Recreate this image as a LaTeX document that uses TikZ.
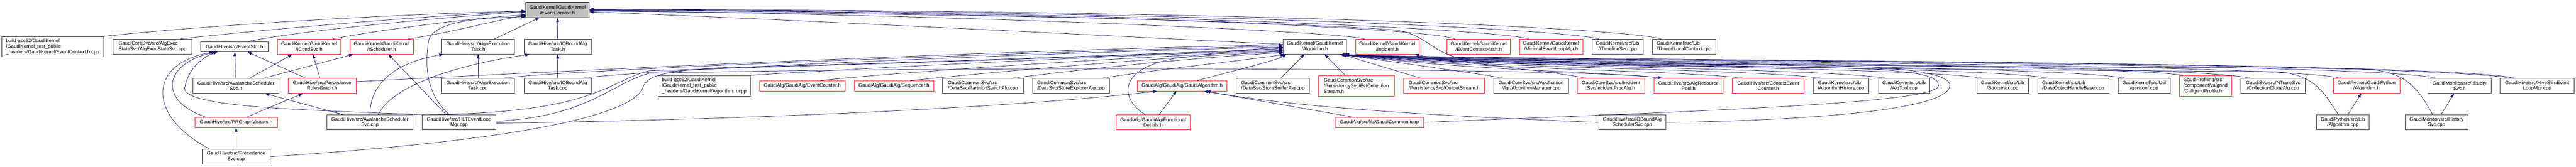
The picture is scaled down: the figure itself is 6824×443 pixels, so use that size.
\documentclass[tikz,border=0pt]{standalone}
\usepackage{fontspec}
\setmainfont{Liberation Sans}
\usetikzlibrary{arrows.meta}

\definecolor{mblue}{RGB}{25,25,112}

\tikzset{
  filebox/.style={draw=black!75, line width=1pt, fill=white, inner sep=2pt,
    minimum height=40, align=center, font=\fontsize{13}{14.6}\selectfont},
  truncbox/.style={filebox, draw=red!85},
  rootbox/.style={filebox, draw=black, fill=gray!50},
  lft/.style={align=left},
  incl/.style={draw=mblue, line width=1pt, -{Triangle[length=11pt,width=8pt]}},
}

\begin{document}
\begin{tikzpicture}[x=1pt, y=-1pt]

  \path[use as bounding box, fill=white] (0,0) rectangle (6824,443);

  % --- Root ---
  \node[rootbox, minimum width=168] (ctx) at (1477,26.5) {GaudiKernel/GaudiKernel\\/EventContext.h};

  % --- Row 1 ---
  \node[filebox, lft, minimum width=271, minimum height=54] (ctxtest) at (139.5,124) {build-gcc62/GaudiKernel\\/GaudiKernel\_test\_public\\\_headers/GaudiKernel/EventContext.h.cpp};
  \node[filebox, lft, minimum width=208] (aessvc) at (404,124) {GaudiCoreSvc/src/AlgExec\\StateSvc/AlgExecStateSvc.cpp};
  \node[filebox, minimum width=178, minimum height=27] (evslot) at (621,124) {GaudiHive/src/EventSlot.h};
  \node[truncbox, minimum width=168] (icond) at (819,124) {GaudiKernel/GaudiKernel\\/ICondSvc.h};
  \node[truncbox, minimum width=168] (isched) at (1011,124) {GaudiKernel/GaudiKernel\\/IScheduler.h};
  \node[filebox, minimum width=193] (aeth) at (1266.5,124) {GaudiHive/src/AlgoExecution\\Task.h};
  \node[filebox, minimum width=179] (iobth) at (1477.5,124) {GaudiHive/src/IOBoundAlg\\Task.h};
  \node[filebox, minimum width=168] (algh) at (3483,124) {GaudiKernel/GaudiKernel\\/Algorithm.h};
  \node[truncbox, minimum width=168] (incid) at (3675,124) {GaudiKernel/GaudiKernel\\/Incident.h};
  \node[truncbox, minimum width=168] (ctxhash) at (3917,124) {GaudiKernel/GaudiKernel\\/EventContextHash.h};
  \node[truncbox, minimum width=168] (minelm) at (4109,124) {GaudiKernel/GaudiKernel\\/MinimalEventLoopMgr.h};
  \node[filebox, minimum width=136] (itl) at (4285,124) {GaudiKernel/src/Lib\\/ITimelineSvc.cpp};
  \node[filebox, lft, minimum width=168] (tlc) at (4461,124) {GaudiKernel/src/Lib\\/ThreadLocalContext.cpp};

  % --- Row 2 ---
  \node[filebox, minimum width=228] (avsh) at (625,228) {GaudiHive/src/AvalancheScheduler\\Svc.h};
  \node[truncbox, minimum width=179] (prgh) at (853.5,228) {GaudiHive/src/Precedence\\RulesGraph.h};
  \node[filebox, minimum width=193] (aetc) at (1266.5,228) {GaudiHive/src/AlgoExecution\\Task.cpp};
  \node[filebox, minimum width=179] (iobtc) at (1477.5,228) {GaudiHive/src/IOBoundAlg\\Task.cpp};
  \node[filebox, lft, minimum width=245, minimum height=55] (algcpp) at (1865.5,228) {build-gcc62/GaudiKernel\\/GaudiKernel\_test\_public\\\_headers/GaudiKernel/Algorithm.h.cpp};
  \node[truncbox, minimum width=227, minimum height=27] (evcnt) at (2125.5,228) {GaudiAlg/GaudiAlg/EventCounter.h};
  \node[truncbox, minimum width=210, minimum height=27] (seq) at (2368,228) {GaudiAlg/GaudiAlg/Sequencer.h};
  \node[filebox, lft, minimum width=214] (pswitch) at (2604,228) {GaudiCommonSvc/src\\/DataSvc/PartitionSwitchAlg.cpp};
  \node[filebox, lft, minimum width=204] (sexpl) at (2837,228) {GaudiCommonSvc/src\\/DataSvc/StoreExplorerAlg.cpp};
  \node[truncbox, minimum width=237, minimum height=27] (galg) at (3131.5,228) {GaudiAlg/GaudiAlg/GaudiAlgorithm.h};
  \node[filebox, lft, minimum width=194] (ssniff) at (3372,228) {GaudiCommonSvc/src\\/DataSvc/StoreSnifferAlg.cpp};
  \node[truncbox, lft, minimum width=200, minimum height=55] (evtcoll) at (3593,228) {GaudiCommonSvc/src\\/PersistencySvc/EvtCollection\\Stream.h};
  \node[truncbox, lft, minimum width=215] (outstr) at (3825.5,228) {GaudiCommonSvc/src\\/PersistencySvc/OutputStream.h};
  \node[filebox, minimum width=198] (algmgr) at (4056,228) {GaudiCoreSvc/src/Application\\Mgr/AlgorithmManager.cpp};
  \node[truncbox, minimum width=179] (incproc) at (4267.5,228) {GaudiCoreSvc/src/Incident\\Svc/IncidentProcAlg.h};
  \node[truncbox, minimum width=184] (respool) at (4473,228) {GaudiHive/src/AlgResource\\Pool.h};
  \node[truncbox, minimum width=190] (ctxcnt) at (4684,228) {GaudiHive/src/ContextEvent\\Counter.h};
  \node[filebox, lft, minimum width=148] (alghist) at (4877,228) {GaudiKernel/src/Lib\\/AlgorithmHistory.cpp};
  \node[filebox, minimum width=136] (algtool) at (5044,228) {GaudiKernel/src/Lib\\/AlgTool.cpp};
  \node[filebox, minimum width=136] (boot) at (5305,228) {GaudiKernel/src/Lib\\/Bootstrap.cpp};
  \node[filebox, lft, minimum width=188] (dohb) at (5492,228) {GaudiKernel/src/Lib\\/DataObjectHandleBase.cpp};
  \node[filebox, minimum width=138] (genconf) at (5680,228) {GaudiKernel/src/Util\\/genconf.cpp};
  \node[truncbox, lft, minimum width=139, minimum height=55] (callg) at (5842.5,228) {GaudiProfiling/src\\/component/valgrind\\/CallgrindProfile.h};
  \node[filebox, minimum width=171] (ccalg) at (6021.5,228) {GaudiSvc/src/NTupleSvc\\/CollectionCloneAlg.cpp};
  \node[truncbox, minimum width=176] (gpyh) at (6269,228) {GaudiPython/GaudiPython\\/Algorithm.h};
  \node[filebox, minimum width=167] (histh) at (6515.5,228) {GaudiMonitor/src/History\\Svc.h};
  \node[filebox, minimum width=196] (hiveslim) at (6721,228) {GaudiHive/src/HiveSlimEvent\\LoopMgr.cpp};

  % --- Row 3 ---
  \node[truncbox, minimum width=219, minimum height=27] (prgv) at (625.5,325) {GaudiHive/src/PRGraphVisitors.h};
  \node[filebox, minimum width=228] (avscpp) at (980,325) {GaudiHive/src/AvalancheScheduler\\Svc.cpp};
  \node[filebox, minimum width=196] (hltcpp) at (1216,325) {GaudiHive/src/HLTEventLoop\\Mgr.cpp};
  \node[truncbox, minimum width=197] (fdet) at (3054.5,325) {GaudiAlg/GaudiAlg/Functional\\Details.h};
  \node[truncbox, minimum width=234, minimum height=27] (gcicpp) at (3654,325) {GaudiAlg/src/lib/GaudiCommon.icpp};
  \node[filebox, minimum width=178] (iobsched) at (4324,325) {GaudiHive/src/IOBoundAlg\\SchedulerSvc.cpp};
  \node[filebox, minimum width=139] (gpycpp) at (6206.5,325) {GaudiPython/src/Lib\\/Algorithm.cpp};
  \node[filebox, minimum width=167] (histcpp) at (6454.5,325) {GaudiMonitor/src/History\\Svc.cpp};

  % --- Row 4 ---
  \node[filebox, minimum width=179] (precsvc) at (625.5,416) {GaudiHive/src/Precedence\\Svc.cpp};

  % --- into EventContext.h ---
  \draw[incl] (ctxtest.north east) .. controls (600,62) and (1100,36) .. ([yshift=-3]ctx.west);
  \draw[incl] ([xshift=74]aessvc.north) .. controls (700,78) and (1150,40) .. ([yshift=-4]ctx.west);
  \draw[incl] ([xshift=37]evslot.north) .. controls (800,80) and (1200,44) .. ([yshift=-5]ctx.west);
  \draw[incl] ([xshift=62]icond.north) .. controls (1000,80) and (1250,48) .. ([yshift=-13]ctx.west);
  \draw[incl] ([xshift=69]isched.north) .. controls (1180,90) and (1320,52) .. ([yshift=-15]ctx.west);
  \draw[incl] ([xshift=-26]hltcpp.north) .. controls (1130,250) and (1125,180) .. (1135,110)
    .. controls (1145,60) and (1250,48) .. ([yshift=-18]ctx.west);
  \draw[incl] ([xshift=43]aeth.north) -- ([xshift=-48]ctx.south);
  \draw[incl] (iobth.north) -- (ctx.south);
  \draw[incl] ([yshift=6]algh.west) .. controls (2800,88) and (2000,48) .. ([yshift=-5]ctx.east);
  \draw[incl] ([xshift=-60]incid.north) .. controls (3560,85) and (2600,40) .. ([yshift=-2]ctx.east);
  \draw[incl] ([xshift=-62]ctxhash.north) .. controls (3780,75) and (2900,33) .. ([yshift=-1]ctx.east);
  \draw[incl] ([xshift=-60]minelm.north) .. controls (3980,80) and (3100,32) .. (ctx.east);
  \draw[incl] ([xshift=-49]itl.north) .. controls (4150,80) and (3300,30) .. ([yshift=1]ctx.east);
  \draw[incl] ([xshift=-61]tlc.north) .. controls (4330,80) and (3500,28) .. ([yshift=2]ctx.east);
  \draw[incl] ([xshift=-68]hiveslim.north) .. controls (6400,168) and (4500,158) .. (3900,157)
    .. controls (3800,155) and (3790,95) .. (3700,80)
    .. controls (3200,45) and (2200,35) .. ([yshift=-3]ctx.east);

  % --- EventSlot.h, ICondSvc.h, IScheduler.h ---
  \draw[incl] ([xshift=-1]avsh.north) -- ([xshift=1]evslot.south);
  \draw[incl] ([xshift=-44]prgh.north) -- ([xshift=35]evslot.south);
  \draw[incl] ([xshift=-80]prgv.north) .. controls (420,270) and (430,170) .. ([xshift=-50]evslot.south);
  \draw[incl] ([xshift=-70]precsvc.north) .. controls (390,310) and (390,170) .. ([xshift=-56]evslot.south);
  \draw[incl] ([xshift=-93]hltcpp.north) .. controls (800,292) and (470,285) .. (490,230)
    .. controls (500,180) and (540,150) .. ([xshift=-45]evslot.south);
  \draw[incl] ([xshift=37]avsh.north) -- ([xshift=-45]icond.south);
  \draw[incl] ([xshift=-6]prgh.north) -- ([xshift=10]icond.south);
  \draw[incl] ([xshift=75]avsh.north) -- ([xshift=-76]isched.south);
  \draw[incl] ([xshift=-34]hltcpp.north) -- ([xshift=18]isched.south);

  % --- scheduler headers ---
  \draw[incl] ([xshift=-71]avscpp.north) -- ([xshift=77]avsh.south);
  \draw[incl] ([xshift=28]prgv.north) -- ([xshift=-52]prgh.south);
  \draw[incl] (precsvc.north) -- (prgv.south);
  \draw[incl] (aetc.north) -- (aeth.south);
  \draw[incl] (iobtc.north) -- (iobth.south);
  \draw[incl] (avscpp.north) .. controls (980,220) and (1050,165) .. ([xshift=-92]aeth.south);
  \draw[incl] ([xshift=22]avscpp.north) .. controls (1040,225) and (1220,170) .. ([xshift=-75]iobth.south);

  % --- GaudiAlgorithm.h, Incident.h, GaudiPython, HistorySvc ---
  \draw[incl] ([xshift=16]fdet.north) -- ([xshift=-15]galg.south);
  \draw[incl] ([yshift=-2]hltcpp.east) .. controls (2000,318) and (2700,285) .. ([xshift=-66]galg.south);
  \draw[incl] ([xshift=-69]gcicpp.north) -- ([xshift=58]galg.south);
  \draw[incl] (iobsched.west) .. controls (3900,312) and (3450,290) .. ([xshift=64]galg.south);
  \draw[incl] ([xshift=-66]incproc.north) .. controls (4080,185) and (3850,165) .. ([xshift=73]incid.south);
  \draw[incl] ([xshift=13]gpycpp.north) -- ([xshift=-14]gpyh.south);
  \draw[incl] ([xshift=12]histcpp.north) -- ([xshift=-15]histh.south);
  \draw[incl] ([yshift=3]hltcpp.east) .. controls (1560,310) and (1620,220) .. (1720,195)
    .. controls (2500,175) and (4200,180) .. ([xshift=-70]respool.north);

  % --- Algorithm.h, from the left ---
  \draw[incl] ([yshift=11]prgh.east) .. controls (1800,172) and (2800,130) .. ([yshift=5]algh.west);
  \draw[incl] ([xshift=68]aetc.north) .. controls (1500,186) and (2600,142) .. ([yshift=2]algh.west);
  \draw[incl] ([xshift=67]iobtc.north) .. controls (1700,186) and (2700,142) .. ([yshift=-1]algh.west);
  \draw[incl] ([xshift=-80]hltcpp.north) .. controls (1580,300) and (1610,215) .. (1720,188)
    .. controls (2300,170) and (3000,150) .. ([yshift=-4]algh.west);
  \draw[incl] (precsvc.east) .. controls (1200,385) and (1640,330) .. (1700,240)
    .. controls (1712,205) and (1730,192) .. (1900,180)
    .. controls (2500,165) and (3100,140) .. ([yshift=-7]algh.west);
  \draw[incl] (algcpp.north east) .. controls (2300,180) and (3000,145) .. ([yshift=-10]algh.west);
  \draw[incl] ([xshift=47]evcnt.north) .. controls (2400,190) and (3000,150) .. ([yshift=-12]algh.west);
  \draw[incl] ([xshift=43]seq.north) .. controls (2700,185) and (3100,150) .. ([yshift=-14]algh.west);
  \draw[incl] ([xshift=78]pswitch.north) .. controls (2900,180) and (3200,150) .. ([yshift=-16]algh.west);
  \draw[incl] ([xshift=83]sexpl.north) .. controls (3100,180) and (3300,160) .. ([xshift=-80]algh.south);
  \draw[incl] ([xshift=40]galg.north) .. controls (3300,180) and (3380,160) .. ([xshift=-75]algh.south);
  \draw[incl] ([xshift=-20]fdet.north) .. controls (2960,260) and (2960,170) .. (3150,150)
    .. controls (3260,135) and (3340,128) .. ([yshift=-2]algh.west);
  \draw[incl] ([xshift=21]ssniff.north) -- ([xshift=-28]algh.south);
  \draw[incl] ([xshift=-29]evtcoll.north) -- ([xshift=26]algh.south);
  \draw[incl] ([xshift=-63]outstr.north) -- ([xshift=72]algh.south);

  % --- Algorithm.h, from the right ---
  \draw[incl] ([xshift=-74]algmgr.north) .. controls (3880,190) and (3660,160) .. ([xshift=66]algh.south);
  \draw[incl] ([xshift=-66]respool.north) .. controls (4207,188) and (3900,188) .. ([xshift=68]algh.south);
  \draw[incl] ([xshift=-66]ctxcnt.north) .. controls (4418,185) and (3900,185) .. ([xshift=70]algh.south);
  \draw[incl] ([xshift=-53]alghist.north) .. controls (4624,182) and (3900,182) .. ([xshift=71]algh.south);
  \draw[incl] ([xshift=-49]algtool.north) .. controls (4795,179) and (3900,179) .. ([xshift=72]algh.south);
  \draw[incl] ([xshift=-54]boot.north) .. controls (5051,176) and (3900,176) .. ([xshift=73]algh.south);
  \draw[incl] ([xshift=-67]dohb.north) .. controls (5225,173) and (3900,173) .. ([xshift=74]algh.south);
  \draw[incl] ([xshift=-51]genconf.north) .. controls (5429,171) and (3900,171) .. ([xshift=75]algh.south);
  \draw[incl] ([xshift=-60]callg.north) .. controls (5582,169) and (3900,169) .. ([xshift=76]algh.south);
  \draw[incl] ([xshift=-60]ccalg.north) .. controls (5761,166) and (3900,166) .. ([xshift=77]algh.south);
  \draw[incl] ([xshift=-67]gpyh.north) .. controls (6002,164) and (3900,164) .. ([xshift=78]algh.south);
  \draw[incl] ([xshift=-63]histh.north) .. controls (6252,162) and (3900,162) .. ([xshift=79]algh.south);
  \draw[incl] ([xshift=-60]hiveslim.north) .. controls (6461,160) and (3900,160) .. ([xshift=80]algh.south);
  \draw[incl] (gcicpp.east) .. controls (4500,295) and (5130,275) .. (5135,228)
    .. controls (5140,190) and (5000,180) .. (4700,178)
    .. controls (4200,175) and (3900,170) .. ([xshift=78]algh.south);
  \draw[incl] (iobsched.east) .. controls (4700,322) and (5160,300) .. (5165,228)
    .. controls (5170,190) and (5000,172) .. (4700,172)
    .. controls (4200,170) and (3900,165) .. ([xshift=80]algh.south);
  \draw[incl] ([xshift=-12]gpycpp.north) .. controls (6150,235) and (6125,195) .. (6020,190)
    .. controls (5000,185) and (3950,172) .. ([xshift=74]algh.south);
  \draw[incl] ([xshift=-10]histcpp.north) .. controls (6400,225) and (6370,188) .. (6250,182)
    .. controls (5000,176) and (3950,168) .. ([xshift=76]algh.south);

\end{tikzpicture}
\end{document}
